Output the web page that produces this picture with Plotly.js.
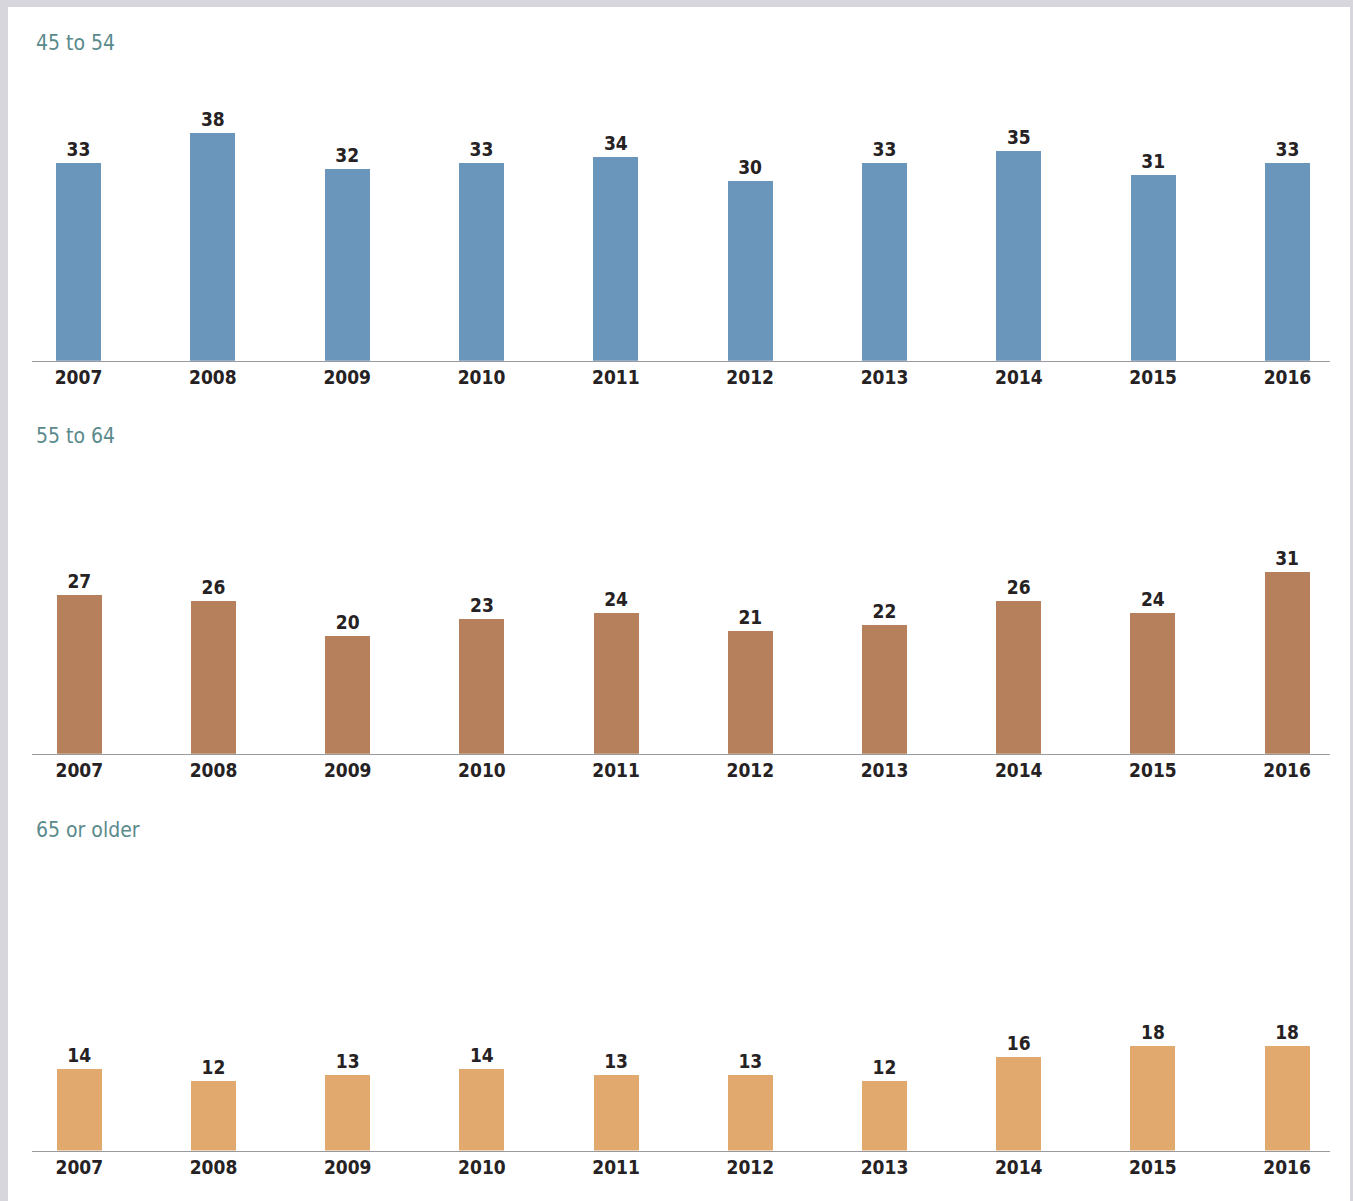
<!DOCTYPE html>
<html>
<head>
<meta charset="utf-8">
<script src="https://cdn.plot.ly/plotly-3.0.1.min.js"></script>
<style>
  html, body { margin: 0; padding: 0; background: #d6d6dc; }
  #chart { width: 1353px; height: 1201px; }
</style>
</head>
<body>
<div id="chart"></div>
<script>
const years = ['2007', '2008', '2009', '2010', '2011', '2012', '2013', '2014', '2015', '2016'];
const age45to54 = [33, 38, 32, 33, 34, 30, 33, 35, 31, 33];
const age55to64 = [27, 26, 20, 23, 24, 21, 22, 26, 24, 31];
const age65plus = [14, 12, 13, 14, 13, 13, 12, 16, 18, 18];
const panelTitles = ['45 to 54', '55 to 64', '65 or older'];
const barColors = ['#6a96bb', '#b5805b', '#e2a96e'];

const W = 1353, H = 1201;
const px = v => v / W;
const py = v => 1 - v / H;

const FONT = 'DejaVu Sans Condensed, Liberation Sans Narrow, sans-serif';
const TXT = '#262223';

// per-panel geometry (pixels)
const panels = [
  { data: age45to54, top: 100, base: 360.7, scale: 6.0, c0: 78.5, step: 134.33, titleY: 43 },
  { data: age55to64, top: 480, base: 753.8, scale: 5.87, c0: 79.3, step: 134.2, titleY: 436 },
  { data: age65plus, top: 870, base: 1150.5, scale: 5.82, c0: 79.3, step: 134.2, titleY: 830 }
];

const traces = [];
const layout = {
  width: W, height: H,
  margin: { l: 0, r: 0, t: 0, b: 0 },
  paper_bgcolor: '#d6d6dc',
  plot_bgcolor: 'rgba(0,0,0,0)',
  showlegend: false,
  bargap: 0,
  shapes: [{
    type: 'rect', xref: 'paper', yref: 'paper', layer: 'below',
    x0: px(8), x1: px(1350), y0: 0, y1: py(7),
    fillcolor: '#ffffff', line: { width: 0 }
  }],
  annotations: []
};

panels.forEach((p, i) => {
  const n = i === 0 ? '' : String(i + 1);
  traces.push({
    type: 'bar',
    x: years,
    y: p.data,
    xaxis: 'x' + n,
    yaxis: 'y' + n,
    width: 45 / p.step,
    marker: { color: barColors[i], line: { width: 0 } },
    text: p.data.map(String),
    textposition: 'outside',
    cliponaxis: false,
    textfont: { family: FONT, size: 19, weight: 'bold', color: TXT },
    hoverinfo: 'x+y'
  });
  layout['xaxis' + n] = {
    domain: [px(32), px(1330)],
    anchor: 'y' + n,
    type: 'category',
    range: [-(p.c0 - 32) / p.step, (1330 - p.c0) / p.step],
    showline: true, linecolor: '#9a9a9e', linewidth: 1.5,
    showgrid: false, zeroline: false,
    ticks: '',
    ticklabelstandoff: -1,
    tickfont: { family: FONT, size: 19, weight: 'bold', color: TXT },
    fixedrange: true
  };
  layout['yaxis' + n] = {
    domain: [py(p.base), py(p.top)],
    anchor: 'x' + n,
    range: [0, (p.base - p.top) / p.scale],
    showline: false, showgrid: false, zeroline: false,
    showticklabels: false, ticks: '',
    fixedrange: true
  };
  layout.annotations.push({
    xref: 'paper', yref: 'paper',
    x: px(34), y: py(p.titleY),
    xanchor: 'left', yanchor: 'middle',
    text: panelTitles[i], showarrow: false,
    font: { family: FONT, size: 21, color: '#5a8a8c' }
  });
});

Plotly.newPlot('chart', traces, layout, { displayModeBar: false, staticPlot: true });
</script>
</body>
</html>
